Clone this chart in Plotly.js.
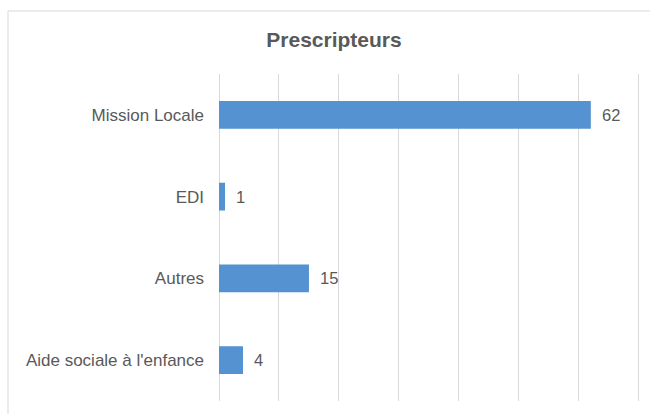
<!DOCTYPE html>
<html><head><meta charset="utf-8">
<script src="https://cdn.plot.ly/plotly-3.0.1.min.js"></script>
<style>html,body{margin:0;padding:0;background:#fff;}</style>
</head><body>
<div id="chart" style="width:650px;height:414px;"></div>
<script>
const categories = ["Mission Locale", "EDI", "Autres", "Aide sociale à l'enfance"];
const values = [62, 1, 15, 4];
const tickValues = [0, 10, 20, 30, 40, 50, 60, 70];

const gray = '#595959';
const font = 'Liberation Sans, Arial, sans-serif';
const trace = {
  type: 'bar', orientation: 'h',
  x: values, y: categories,
  marker: {color: '#5592d2'},
  hoverinfo: 'none'
};
const annotations = categories.map((c, i) => ({
  x: values[i], y: c, xref: 'x', yref: 'y',
  text: String(values[i]), showarrow: false,
  xanchor: 'left', xshift: 9,
  font: {family: font, size: 16.5, color: gray}
}));
const layout = {
  width: 650, height: 414,
  margin: {l: 219, r: 10, t: 74, b: 13},
  paper_bgcolor: '#fff', plot_bgcolor: '#fff',
  title: {text: 'Prescripteurs', x: 334/650, xref: 'container', xanchor: 'center',
          y: 1 - 40/414, yref: 'container', yanchor: 'middle',
          font: {family: font, size: 21, color: gray, weight: 'bold'}},
  bargap: 0.66,
  showlegend: false,
  xaxis: {range: [0, 70.2], tickvals: tickValues, showticklabels: false,
          showgrid: true, gridcolor: '#d9d9d9', gridwidth: 1,
          zeroline: true, zerolinecolor: '#d9d9d9', zerolinewidth: 1,
          showline: false, fixedrange: true},
  yaxis: {autorange: 'reversed', showgrid: false, showline: false, zeroline: false,
          ticks: '', ticklabelstandoff: 14,
          tickfont: {family: font, size: 17, color: gray}},
  annotations: annotations,
  shapes: [{type: 'rect', xref: 'paper', yref: 'paper',
            x0: (8 - 219) / 421, x1: 2, y0: -0.5, y1: (401 - 11) / 327,
            line: {color: '#d9d9d9', width: 1}, layer: 'below'}]
};
Plotly.newPlot('chart', [trace], layout, {displayModeBar: false, staticPlot: true});
</script>
</body></html>
